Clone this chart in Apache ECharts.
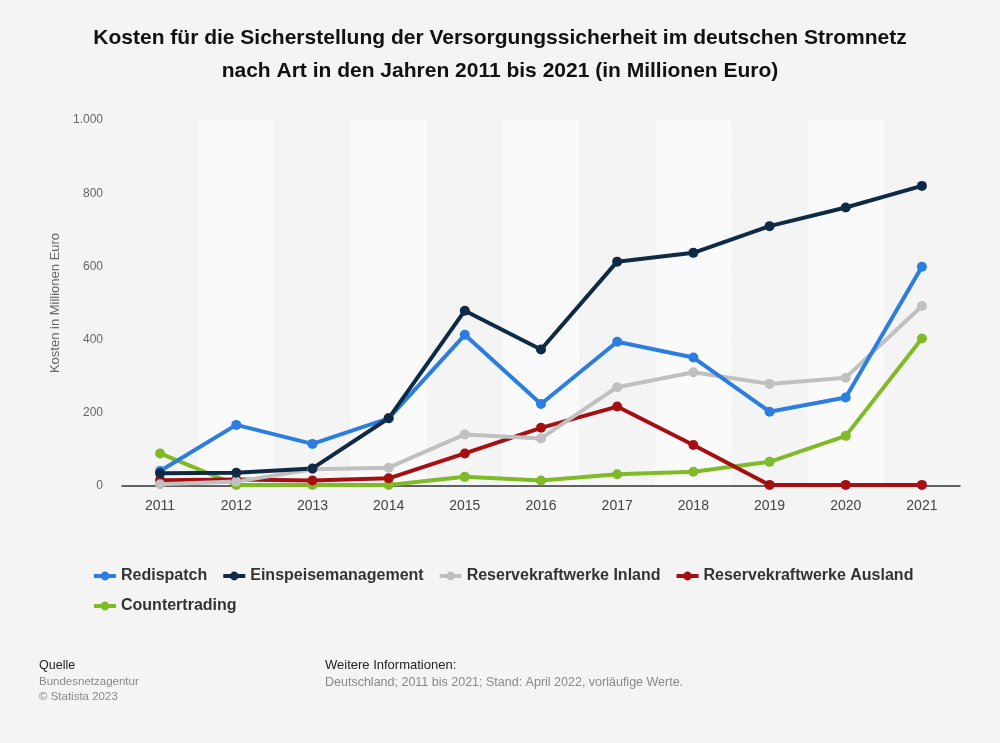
<!DOCTYPE html>
<html>
<head>
<meta charset="utf-8">
<script src="https://cdn.jsdelivr.net/npm/echarts@6/dist/echarts.min.js"></script>
<style>
html,body{margin:0;padding:0;background:#f4f4f4;}
#c{width:1000px;height:743px;}
</style>
</head>
<body>
<div id="c"></div>
<script>
const years = ['2011','2012','2013','2014','2015','2016','2017','2018','2019','2020','2021'];
const redispatch = [41, 167, 115, 185, 413, 224, 394, 351, 203, 242, 599];
const einspeisemanagement = [35, 36, 48, 185, 479, 373, 613, 637, 710, 761, 820];
const reserveInland = [5, 12, 46, 50, 141, 130, 270, 311, 279, 296, 492];
const reserveAusland = [16, 18, 15, 21, 89, 159, 217, 112, 3, 3, 3];
const countertrading = [89, 3, 3, 3, 25, 15, 32, 39, 66, 137, 403];
const yTicks = [0, 200, 400, 600, 800, 1000];

const font = 'Liberation Sans, Arial, sans-serif';
const chart = echarts.init(document.getElementById('c'), null, {renderer:'canvas'});

function mk(name, data, color) {
  return {
    name, type:'line', data,
    symbol:'circle', symbolSize:10,
    lineStyle:{width:4, color},
    itemStyle:{color},
    emphasis:{disabled:true}
  };
}

chart.setOption({
  backgroundColor:'#f4f4f4',
  animation:false,
  textStyle:{fontFamily:font},
  title:{
    text:'Kosten für die Sicherstellung der Versorgungssicherheit im deutschen Stromnetz\nnach Art in den Jahren 2011 bis 2021 (in Millionen Euro)',
    left:'center', top:17,
    textStyle:{fontFamily:font, fontSize:21, fontWeight:'bold', color:'#111', lineHeight:33}
  },
  grid:{left:122, right:40, top:120, bottom:257},
  xAxis:{
    type:'category', data:years, boundaryGap:true,
    axisLine:{show:true, lineStyle:{color:'#333', width:1.5}},
    axisTick:{show:false},
    axisLabel:{color:'#444', fontSize:14, margin:13, fontFamily:font},
    splitArea:{show:true, areaStyle:{color:['#f4f4f4','#fafafa']}}
  },
  yAxis:{
    type:'value', min:0, max:1000, interval:200,
    name:'Kosten in Millionen Euro', nameLocation:'middle', nameGap:60,
    nameTextStyle:{color:'#666', fontSize:13, fontFamily:font},
    axisLine:{show:false}, axisTick:{show:false},
    axisLabel:{color:'#666', fontSize:12, margin:19, fontFamily:font,
      formatter:v => yTicks.includes(v) ? (v>=1000 ? (v/1000)+'.000' : String(v)) : ''},
    splitLine:{lineStyle:{color:'#c8c8c8', type:[1,2], width:1}}
  },
  legend:{
    left:87, top:563, width:860, itemGap:14, itemWidth:22, itemHeight:11,
    lineStyle:{width:4},
    textStyle:{fontSize:16, fontWeight:'bold', color:'#333', fontFamily:font},
    data:['Redispatch','Einspeisemanagement','Reservekraftwerke Inland','Reservekraftwerke Ausland','Countertrading']
  },
  series:[
    mk('Countertrading', countertrading, '#7fba27'),
    mk('Reservekraftwerke Ausland', reserveAusland, '#a50f12'),
    mk('Reservekraftwerke Inland', reserveInland, '#c0c0c0'),
    mk('Redispatch', redispatch, '#2b7de0'),
    mk('Einspeisemanagement', einspeisemanagement, '#0f2a45')
  ],
  graphic:[
    {type:'text', left:39, top:659, style:{text:'Quelle', fontSize:12.5, fill:'#222', fontFamily:font}},
    {type:'text', left:39, top:676, style:{text:'Bundesnetzagentur', fontSize:11.5, fill:'#888', fontFamily:font}},
    {type:'text', left:39, top:691, style:{text:'© Statista 2023', fontSize:11.5, fill:'#888', fontFamily:font}},
    {type:'text', left:325, top:659, style:{text:'Weitere Informationen:', fontSize:13, fill:'#222', fontFamily:font}},
    {type:'text', left:325, top:676, style:{text:'Deutschland; 2011 bis 2021; Stand: April 2022, vorläufige Werte.', fontSize:12.5, fill:'#888', fontFamily:font}}
  ]
});
</script>
</body>
</html>
